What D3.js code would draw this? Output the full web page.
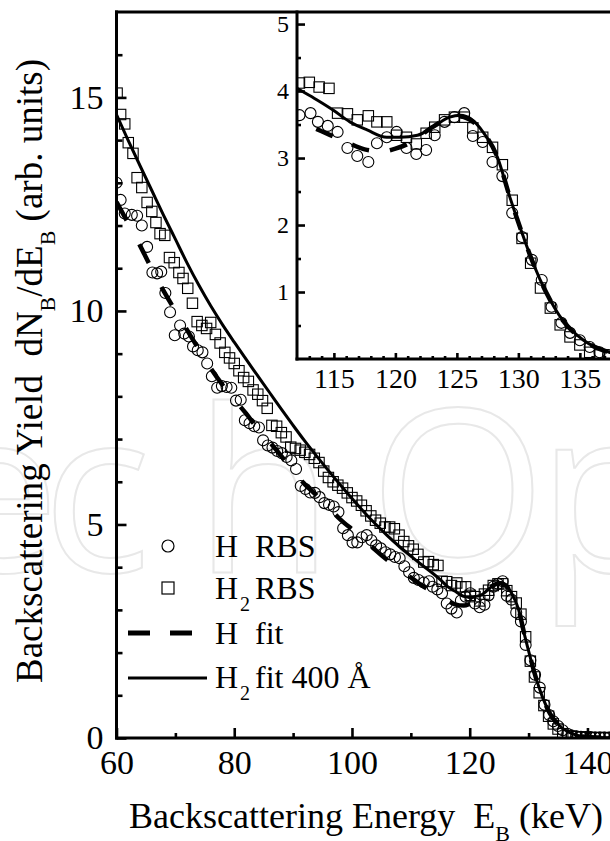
<!DOCTYPE html>
<html>
<head>
<meta charset="utf-8">
<script src="https://cdn.jsdelivr.net/npm/d3@7"></script>
<style>
  body { margin: 0; background: #fff; }
  svg { display: block; }
  text.serif, .serif text { font-family: "Liberation Serif", "DejaVu Serif", serif; white-space: pre; }
</style>
</head>
<body>
<svg id="chart" width="610" height="841"></svg>
<script>

// H RBS (circles): [energy keV, yield]
var hRbs = [
  [60.0,13.0],[60.7,12.6],[61.4,12.28],[62.6,12.25],[63.5,12.23],[64.3,12.0],[65.2,11.5],[66.1,10.9],
  [66.9,10.88],[67.6,10.92],[68.3,10.42],[69.1,9.97],[69.9,9.43],[70.8,9.66],[71.5,9.47],[72.3,9.4],
  [73.0,9.17],[73.8,9.08],[74.6,9.03],[75.4,8.77],[76.2,8.47],[77.1,8.2],[77.9,8.24],[78.7,8.22],
  [79.5,8.2],[80.3,7.9],[81.1,7.92],[81.8,7.44],[82.6,7.37],[83.4,7.3],[84.2,7.27],[84.9,6.97],
  [85.7,6.85],[86.5,6.8],[87.3,6.72],[88.1,6.67],[88.9,6.58],[89.7,6.5],[90.5,6.3],[91.3,5.9],
  [92.1,5.83],[92.9,5.75],[93.7,5.74],[94.5,5.64],[95.3,5.5],[96.1,5.46],[96.9,5.42],[97.7,5.29],
  [98.5,4.91],[99.3,4.75],[100.1,4.58],[100.9,4.58],[101.7,4.7],[102.5,4.75],[103.3,4.63],[104.1,4.51],
  [104.9,4.44],[105.7,4.35],[106.5,4.3],[107.3,4.24],[108.1,4.21],[108.9,4.02],[109.7,3.88],[110.5,3.75],
  [111.3,3.7],[112.2,3.64],[113.1,3.67],[113.7,3.54],[114.5,3.48],[115.3,3.39],[116.1,3.15],[116.9,3.03],
  [117.8,2.94],[118.5,3.22],[119.3,3.31],[120.1,3.39],[120.9,3.15],[121.7,3.06],[122.5,3.12],[123.2,3.34],
  [124.0,3.54],[124.8,3.61],[125.6,3.67],[126.3,3.33],[127.1,3.24],[127.9,2.94],[128.7,2.73],[129.5,2.18],
  [130.3,1.82],[131.1,1.48],[131.9,1.18],[132.7,0.78],[133.5,0.54],[134.2,0.39],[135.0,0.28],[135.8,0.18],
  [136.6,0.1],[137.3,0.06],[138.1,0.04],[138.9,0.03],[139.7,0.02],[140.5,0.02],[141.3,0.01],[142.1,0.01],
  [142.9,0.01],[143.7,0.01],[144.5,0.0]
];

// H2 RBS (squares)
var h2Rbs = [
  [60.1,15.1],[60.7,14.6],[61.4,14.38],[62.0,13.94],[62.8,13.69],[63.5,13.12],[64.3,12.89],[65.2,12.54],
  [66.0,12.33],[66.7,12.07],[67.4,11.81],[68.2,11.77],[69.0,11.25],[69.8,11.13],[70.6,10.9],[71.3,10.76],
  [72.1,10.53],[72.9,10.18],[73.7,9.75],[74.5,9.66],[75.3,9.59],[76.0,9.73],[76.8,9.45],[77.6,9.25],
  [78.4,9.03],[79.2,8.9],[80.0,8.77],[80.8,8.6],[81.6,8.44],[82.4,8.35],[83.2,8.15],[84.0,8.05],
  [84.8,7.9],[85.6,7.72],[86.4,7.32],[87.2,7.3],[88.0,7.15],[88.8,7.05],[89.6,6.81],[90.4,6.78],
  [91.2,6.74],[92.0,6.69],[92.8,6.64],[93.6,6.55],[94.4,6.45],[95.2,6.25],[96.0,6.1],[96.8,6.0],
  [97.6,5.92],[98.4,5.85],[99.2,5.74],[100.0,5.63],[100.8,5.55],[101.6,5.45],[102.4,5.32],[103.2,5.2],
  [104.0,5.1],[104.8,5.03],[105.6,4.94],[106.4,4.94],[107.2,4.9],[108.0,4.75],[108.8,4.6],[109.6,4.5],
  [110.4,4.42],[111.2,4.3],[112.2,4.12],[113.0,4.13],[113.8,4.06],[114.6,4.04],[115.3,3.67],[116.1,3.66],
  [116.9,3.57],[117.8,3.63],[118.5,3.54],[119.3,3.54],[120.1,3.34],[120.9,3.31],[121.7,3.21],[122.5,3.37],
  [123.2,3.46],[124.0,3.57],[124.8,3.61],[125.6,3.61],[126.3,3.45],[127.1,3.31],[127.9,3.16],[128.7,2.9],
  [129.5,2.37],[130.3,1.8],[131.0,1.43],[131.8,1.06],[132.6,0.76],[133.4,0.51],[134.2,0.33],[135.0,0.21],
  [135.8,0.1],[136.6,0.06],[137.3,0.04],[138.1,0.03],[138.9,0.02],[139.7,0.02],[140.5,0.01],[141.3,0.01],
  [142.1,0.01],[142.9,0.01],[143.7,0.0]
];

// H fit (dashed)
var hFit = [
  [60,12.55],[62,12.05],[64,11.53],[66,10.98],[68,10.47],[70,10.0],[72,9.55],[74,9.1],[76,8.66],
  [78,8.27],[80,7.93],[82,7.6],[84,7.24],[86,6.93],[88,6.6],[90,6.24],[92,5.94],[94,5.68],[96,5.4],
  [98,5.12],[100,4.89],[102,4.67],[104,4.4],[106,4.17],[108,3.97],[110,3.76],[112,3.56],[114,3.4],
  [116,3.24],[117.5,3.13],[119,3.1],[120,3.14],[121,3.21],[122,3.33],[123,3.46],[124,3.57],[125,3.63],
  [126,3.58],[127.2,3.37],[128.3,3.01],[129.3,2.42],[130.3,1.88],[131.2,1.43],[132.3,0.98],[133.6,0.58],
  [135.3,0.28],[137.4,0.1],[139.5,0.03],[142,0.01],[146,0.0]
];

// H2 fit 400 A (solid)
var h2Fit = [
  [60,14.6],[62,13.99],[64,13.4],[66,12.82],[68,12.24],[70,11.68],[72,11.12],[74,10.6],[76,10.12],
  [78,9.68],[80,9.27],[82,8.87],[84,8.48],[86,8.09],[88,7.7],[90,7.32],[92,6.95],[94,6.6],[96,6.26],
  [98,5.93],[100,5.61],[102,5.3],[104,5.01],[106,4.74],[108,4.49],[110,4.26],[112,4.04],[113.6,3.87],
  [114.9,3.72],[116.3,3.54],[117.7,3.42],[119.3,3.31],[120.4,3.31],[121.8,3.34],[123.1,3.47],[124.4,3.61],
  [125.3,3.64],[126.1,3.59],[127.2,3.37],[128.3,3.01],[129.3,2.42],[130.3,1.88],[131.2,1.43],[132.3,0.98],
  [133.6,0.58],[135.3,0.28],[137.4,0.1],[139.5,0.03],[142,0.01],[146,0.0]
];

var mainXTicks = [60, 80, 100, 120, 140];
var mainXMinor = [70, 90, 110, 130];
var mainYTicks = [0, 5, 10, 15];
var mainYMinor = [1, 2, 3, 4, 6, 7, 8, 9, 11, 12, 13, 14, 16];
var insetXTicks = [115, 120, 125, 130, 135];
var insetXMinor = [113, 114, 116, 117, 118, 119, 121, 122, 123, 124, 126, 127, 128, 129, 131, 132, 133, 134, 136, 137];
var insetYTicks = [1, 2, 3, 4, 5];
var insetYMinor = [0.5, 1.5, 2.5, 3.5, 4.5];

var SERIF = '"Liberation Serif", "DejaVu Serif", serif';

var svg = d3.select('#chart');

var mainX = d3.scaleLinear().domain([60, 144]).range([116.5, 611]);
var mainY = d3.scaleLinear().domain([0, 17]).range([738, 12]);
var insetX = d3.scaleLinear().domain([112, 137.5]).range([297, 610.6]);
var insetY = d3.scaleLinear().domain([0, 5.18]).range([359, 12]);

// faint watermark
svg.append('text')
   .attr('x', '-68 42 194 369 537')
   .attr('y', 572)
   .attr('font-family', '"Open Sans", sans-serif')
   .attr('font-size', 228)
   .attr('fill', 'none')
   .attr('stroke', '#e8e8e8')
   .attr('stroke-width', 2)
   .text('echOp');

var defs = svg.append('defs');
defs.append('clipPath').attr('id', 'clip-main')
    .append('rect').attr('x', 116.5).attr('y', 12).attr('width', 500).attr('height', 726);
defs.append('clipPath').attr('id', 'clip-inset')
    .append('rect').attr('x', 297).attr('y', 12).attr('width', 320).attr('height', 347);

function drawData(clipId, x, y, hFitData, dash, dashOffset)
{
  var g = svg.append('g').attr('clip-path', 'url(#' + clipId + ')');

  g.selectAll('.h-rbs')
   .data(hRbs)
   .enter()
   .append('circle')
   .attr('class', 'h-rbs')
   .attr('cx', d => x(d[0]))
   .attr('cy', d => y(d[1]))
   .attr('r', 5.5)
   .attr('fill', 'none')
   .attr('stroke', '#000')
   .attr('stroke-width', 1.1);

  g.selectAll('.h2-rbs')
   .data(h2Rbs)
   .enter()
   .append('rect')
   .attr('class', 'h2-rbs')
   .attr('x', d => x(d[0]) - 5.2)
   .attr('y', d => y(d[1]) - 5.2)
   .attr('width', 10.4)
   .attr('height', 10.4)
   .attr('fill', 'none')
   .attr('stroke', '#000')
   .attr('stroke-width', 1.1);

  var line = d3.line().x(d => x(d[0])).y(d => y(d[1])).curve(d3.curveMonotoneX);

  g.append('path')
   .datum(hFitData)
   .attr('d', line)
   .attr('fill', 'none')
   .attr('stroke', '#000')
   .attr('stroke-width', 4.5)
   .attr('stroke-dasharray', dash)
   .attr('stroke-dashoffset', dashOffset);

  g.append('path')
   .datum(h2Fit)
   .attr('d', line)
   .attr('fill', 'none')
   .attr('stroke', '#000')
   .attr('stroke-width', 3);
}

drawData('clip-main', mainX, mainY, hFit, '21,27', 0);
drawData('clip-inset', insetX, insetY, hFit.filter(d => d[0] >= 112), '18,21', 18);

function styleAxis(g, size)
{
  g.select('.domain').remove();
  g.selectAll('line').attr('stroke', '#000').attr('stroke-width', 2.6);
  g.attr('font-family', SERIF).attr('font-size', size).attr('class', 'serif');
  g.selectAll('text').attr('fill', '#000').attr('font-family', SERIF);
}

// main axes
svg.append('g')
   .attr('transform', 'translate(0,' + mainY(0) + ')')
   .call(d3.axisBottom(mainX).tickValues(mainXTicks).tickSize(-10).tickSizeOuter(0).tickPadding(12))
   .call(g => styleAxis(g, 34));
svg.append('g')
   .attr('transform', 'translate(0,' + mainY(0) + ')')
   .call(d3.axisBottom(mainX).tickValues(mainXMinor).tickSize(-5).tickSizeOuter(0).tickFormat(() => ''))
   .call(g => styleAxis(g, 34));
svg.append('g')
   .attr('transform', 'translate(' + mainX(60) + ',0)')
   .call(d3.axisLeft(mainY).tickValues(mainYTicks).tickSize(-10).tickSizeOuter(0).tickPadding(13))
   .call(g => styleAxis(g, 34));
svg.append('g')
   .attr('transform', 'translate(' + mainX(60) + ',0)')
   .call(d3.axisLeft(mainY).tickValues(mainYMinor).tickSize(-6).tickSizeOuter(0).tickFormat(() => ''))
   .call(g => styleAxis(g, 34));

// inset axes
svg.append('g')
   .attr('transform', 'translate(0,' + insetY(0) + ')')
   .call(d3.axisBottom(insetX).tickValues(insetXTicks).tickSize(-6).tickSizeOuter(0).tickPadding(9).tickFormat(d3.format('d')))
   .call(g => styleAxis(g, 28));
svg.append('g')
   .attr('transform', 'translate(0,' + insetY(0) + ')')
   .call(d3.axisBottom(insetX).tickValues(insetXMinor).tickSize(-3).tickSizeOuter(0).tickFormat(() => ''))
   .call(g => styleAxis(g, 28));
svg.append('g')
   .attr('transform', 'translate(' + insetX(112) + ',0)')
   .call(d3.axisLeft(insetY).tickValues(insetYTicks).tickSize(-8).tickSizeOuter(0).tickPadding(8).tickFormat(d3.format('d')))
   .call(g => styleAxis(g, 24));
svg.append('g')
   .attr('transform', 'translate(' + insetX(112) + ',0)')
   .call(d3.axisLeft(insetY).tickValues(insetYMinor).tickSize(-4).tickSizeOuter(0).tickFormat(() => ''))
   .call(g => styleAxis(g, 24));

// spines
var spines = [
  [mainX(60), mainY(17), mainX(60), mainY(0)],
  [mainX(60), mainY(0), 612, mainY(0)],
  [mainX(60), mainY(17), 612, mainY(17)],
  [insetX(112), insetY(5.18), insetX(112), insetY(0)],
  [insetX(112), insetY(0), 612, insetY(0)]
];
svg.selectAll('.spine')
   .data(spines)
   .enter()
   .append('line')
   .attr('class', 'spine')
   .attr('x1', d => d[0]).attr('y1', d => d[1])
   .attr('x2', d => d[2]).attr('y2', d => d[3])
   .attr('stroke', '#000')
   .attr('stroke-width', 3)
   .attr('stroke-linecap', 'square');

// axis titles
var xt = svg.append('text')
            .attr('class', 'serif')
            .attr('font-family', SERIF)
            .attr('x', 366)
            .attr('y', 828)
            .attr('text-anchor', 'middle')
            .attr('font-size', 36);
xt.append('tspan').text('Backscattering Energy  E');
xt.append('tspan').attr('dy', 13).attr('font-size', 22).text('B');
xt.append('tspan').attr('dy', -13).text(' (keV)');

var yt = svg.append('text')
            .attr('class', 'serif')
            .attr('font-family', SERIF)
            .attr('transform', 'translate(42,371) rotate(-90)')
            .attr('text-anchor', 'middle')
            .attr('font-size', 37);
yt.append('tspan').text('Backscattering Yield  dN');
yt.append('tspan').attr('dy', 13).attr('font-size', 22).text('B');
yt.append('tspan').attr('dy', -13).text('/dE');
yt.append('tspan').attr('dy', 13).attr('font-size', 22).text('B');
yt.append('tspan').attr('dy', -13).text(' (arb. units)');

// legend
var legend = svg.append('g').attr('class', 'serif').attr('font-family', SERIF).attr('font-size', 32);

legend.append('circle').attr('cx', 168).attr('cy', 546).attr('r', 6)
      .attr('fill', 'none').attr('stroke', '#000').attr('stroke-width', 1.2);
legend.append('rect').attr('x', 162).attr('y', 582).attr('width', 12).attr('height', 12)
      .attr('fill', 'none').attr('stroke', '#000').attr('stroke-width', 1.2);
legend.append('line').attr('x1', 128).attr('y1', 633).attr('x2', 192).attr('y2', 633)
      .attr('stroke', '#000').attr('stroke-width', 5).attr('stroke-dasharray', '22,20');
legend.append('line').attr('x1', 128).attr('y1', 678).attr('x2', 207).attr('y2', 678)
      .attr('stroke', '#000').attr('stroke-width', 2.8);

var labels = [
  {y: 557, sub: '', rest: 'RBS'},
  {y: 599, sub: '2', rest: 'RBS'},
  {y: 644, sub: '', rest: 'fit'},
  {y: 688, sub: '2', rest: 'fit 400 Å'}
];
labels.forEach(l => {
  legend.append('text').attr('x', 215).attr('y', l.y).text('H');
  if (l.sub) legend.append('text').attr('x', 240).attr('y', l.y + 12).attr('font-size', 20).text(l.sub);
  legend.append('text').attr('x', 255).attr('y', l.y).text(l.rest);
});

</script>
</body>
</html>
